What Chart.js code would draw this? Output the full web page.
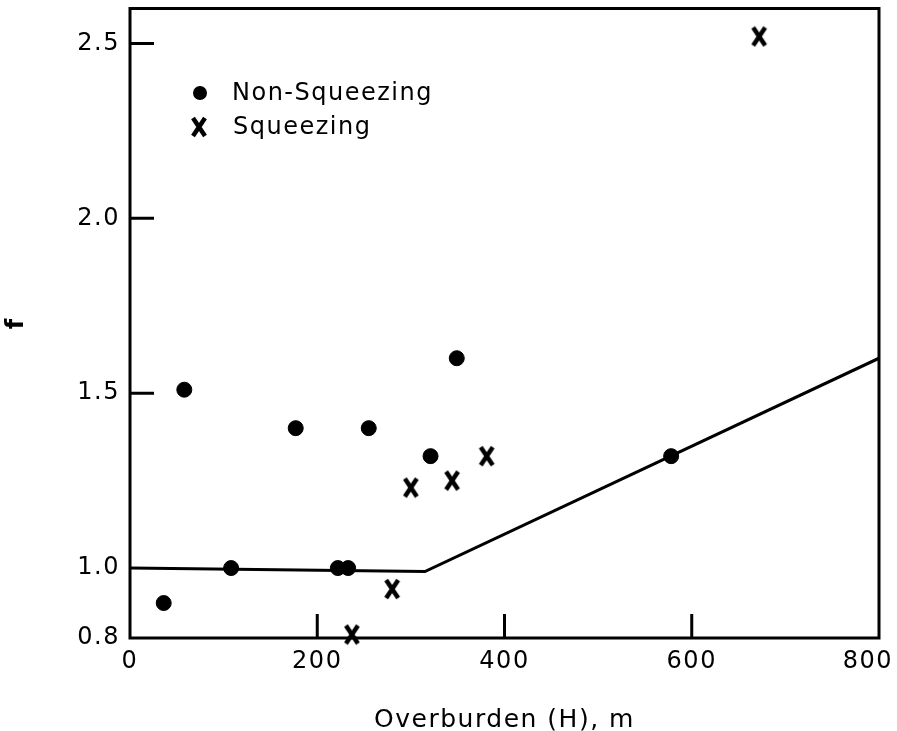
<!DOCTYPE html>
<html>
<head>
<meta charset="utf-8">
<script src="https://cdn.jsdelivr.net/npm/chart.js@4.4.1/dist/chart.umd.min.js"></script>
<style>
	html, body { margin: 0; padding: 0; background: #fff; }
	#wrap { width: 897px; height: 731px; }
</style>
</head>
<body>
<div id="wrap"><canvas id="c"></canvas></div>
<script>
// Data
var nonSqueezingH = [ 36, 58, 108, 177, 222, 233, 255, 321, 349, 578 ],
	nonSqueezingF = [ 0.90, 1.51, 1.00, 1.40, 1.00, 1.00, 1.40, 1.32, 1.60, 1.32 ],
	squeezingH = [ 237, 280, 300, 344, 381, 672 ],
	squeezingF = [ 0.81, 0.94, 1.23, 1.25, 1.32, 2.52 ],
	boundaryH = [ 0, 315, 800 ],
	boundaryF = [ 1.00, 0.99, 1.60 ],
	xTicks = [ 0, 200, 400, 600, 800 ],
	yTicks = [ 0.8, 1.0, 1.5, 2.0, 2.5 ],
	xInnerTicks = [ 200, 400, 600 ],
	yInnerTicks = [ 1.5, 2.0, 2.5 ];

var FONT = "'DejaVu Sans', sans-serif";

function zip( xs, ys ) {
	return xs.map( function( x, i ) { return { x: x, y: ys[ i ] }; } );
}

// bold "X" marker used for squeezing cases
function makeCross() {
	var c = document.createElement( "canvas" ), g;
	c.width = 18;
	c.height = 22;
	g = c.getContext( "2d" );
	g.strokeStyle = "#000";
	g.lineWidth = 4.5;
	g.beginPath();
	g.moveTo( 3, 2 ); g.lineTo( 15, 20 );
	g.moveTo( 15, 2 ); g.lineTo( 3, 20 );
	g.stroke();
	return c;
}
var crossImg = makeCross();

// frame, inward tick marks, x tick labels and legend
var framePlugin = {
	id: "frame",
	beforeDraw: function( chart ) {
		// the original lettering is widely spaced
		chart.ctx.letterSpacing = "1.5px";
	},
	beforeDatasetsDraw: function( chart ) {
		var ctx = chart.ctx, a = chart.chartArea,
			xs = chart.scales.x, ys = chart.scales.y;
		ctx.save();
		ctx.strokeStyle = "#000";
		ctx.lineWidth = 3;
		ctx.strokeRect( a.left, a.top, a.right - a.left, a.bottom - a.top );
		ctx.beginPath();
		xInnerTicks.forEach( function( v ) {
			var px = xs.getPixelForValue( v );
			ctx.moveTo( px, a.bottom );
			ctx.lineTo( px, a.bottom - 24 );
		} );
		yInnerTicks.forEach( function( v ) {
			var py = ys.getPixelForValue( v );
			ctx.moveTo( a.left, py );
			ctx.lineTo( a.left + 24, py );
		} );
		ctx.stroke();

		// x tick labels, kept inside the canvas at the right edge
		ctx.fillStyle = "#000";
		ctx.font = "24px " + FONT;
		ctx.letterSpacing = "1.5px";
		ctx.textAlign = "left";
		ctx.textBaseline = "middle";
		xTicks.forEach( function( v ) {
			var txt = String( v ),
				w = ctx.measureText( txt ).width,
				left = Math.min( xs.getPixelForValue( v ) - w / 2, chart.width - 4 - w );
			ctx.fillText( txt, left, a.bottom + 24 );
		} );
		ctx.restore();
	},
	afterDraw: function( chart ) {
		var ctx = chart.ctx;
		ctx.save();
		ctx.fillStyle = "#000";
		ctx.beginPath();
		ctx.arc( 200, 93, 7, 0, Math.PI * 2 );
		ctx.fill();
		ctx.drawImage( crossImg, 190, 116 );
		ctx.font = "24px " + FONT;
		ctx.letterSpacing = "1.5px";
		ctx.textBaseline = "middle";
		ctx.fillText( "Non-Squeezing", 232, 94 );
		ctx.fillText( "Squeezing", 233, 128 );
		ctx.restore();
	}
};

new Chart( document.getElementById( "c" ), {
	type: "scatter",
	data: {
		datasets: [
			{
				label: "Boundary",
				data: zip( boundaryH, boundaryF ),
				showLine: true,
				borderColor: "#000",
				borderWidth: 3,
				pointRadius: 0,
				tension: 0
			},
			{
				label: "Non-Squeezing",
				data: zip( nonSqueezingH, nonSqueezingF ),
				backgroundColor: "#000",
				borderColor: "#000",
				pointRadius: 7.5,
				clip: false
			},
			{
				label: "Squeezing",
				data: zip( squeezingH, squeezingF ),
				pointStyle: crossImg,
				clip: false
			}
		]
	},
	options: {
		responsive: true,
		maintainAspectRatio: false,
		animation: false,
		layout: { padding: { top: 8, right: 18, left: 0, bottom: 0 } },
		plugins: { legend: { display: false }, tooltip: { enabled: false } },
		scales: {
			x: {
				type: "linear",
				min: 0,
				max: 800,
				afterBuildTicks: function( s ) { s.ticks = xTicks.map( function( v ) { return { value: v }; } ); },
				afterFit: function( s ) {
					s.height = 93;
					s.paddingLeft = 0;
					s.paddingRight = 0;
				},
				grid: { display: false, drawTicks: false },
				border: { display: false },
				ticks: { display: false },
				title: {
					display: true,
					text: "Overburden (H), m",
					color: "#000",
					font: { family: FONT, size: 25 },
					padding: { top: 20, bottom: -4 }
				}
			},
			y: {
				min: 0.8,
				max: 2.6,
				afterBuildTicks: function( s ) { s.ticks = yTicks.map( function( v ) { return { value: v }; } ); },
				afterFit: function( s ) {
					s.width = 130;
					s.paddingTop = 0;
					s.paddingBottom = 0;
				},
				grid: { display: false, drawTicks: false },
				border: { display: false },
				ticks: {
					color: "#000",
					font: { family: FONT, size: 24 },
					padding: 10,
					callback: function( v ) { return Number( v ).toFixed( 1 ); }
				},
				title: {
					display: true,
					text: "f",
					color: "#000",
					font: { family: FONT, size: 24, weight: "bold" },
					padding: { top: 2, bottom: 0 }
				}
			}
		}
	},
	plugins: [ framePlugin ]
} );
</script>
</body>
</html>
